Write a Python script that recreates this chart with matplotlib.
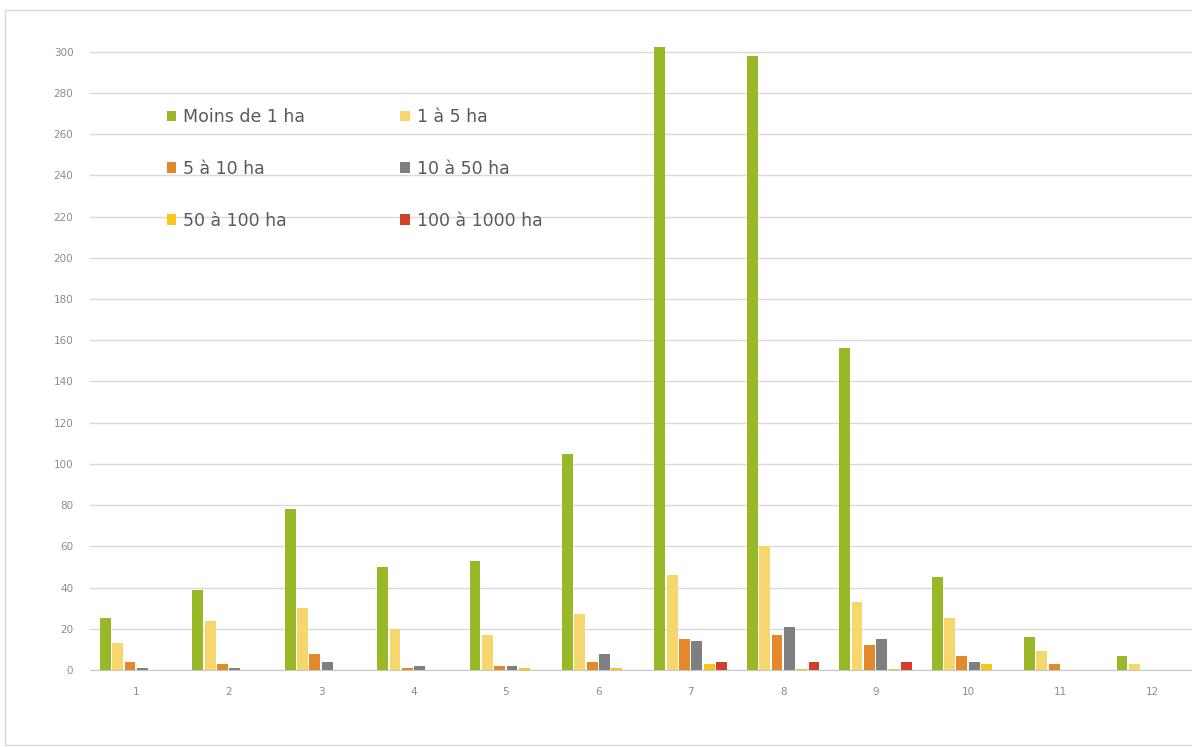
import matplotlib.pyplot as plt
import numpy as np

# surface classes, one bar per class in each group
classes = ["Moins de 1 ha", "1 à 5 ha", "5 à 10 ha", "10 à 50 ha", "50 à 100 ha", "100 à 1000 ha"]
colors = ["#98b828", "#f6d76e", "#e4892a", "#7f7f7f", "#f9c51a", "#cf3f2c"]
groups = ["1", "2", "3", "4", "5", "6", "7", "8", "9", "10", "11", "12"]

moins_1 = [25, 39, 78, 50, 53, 105, 302, 298, 156, 45, 16, 7]
de_1_a_5 = [13, 24, 30, 20, 17, 27, 46, 60, 33, 25, 9, 3]
de_5_a_10 = [4, 3, 8, 1, 2, 4, 15, 17, 12, 7, 3, 0]
de_10_a_50 = [1, 1, 4, 2, 2, 8, 14, 21, 15, 4, 0, 0]
de_50_a_100 = [0, 0, 0, 0, 1, 1, 3, 0.5, 0.5, 3, 0, 0]
de_100_a_1000 = [0, 0, 0, 0, 0, 0, 4, 4, 4, 0, 0, 0]

series = [moins_1, de_1_a_5, de_5_a_10, de_10_a_50, de_50_a_100, de_100_a_1000]

fig = plt.figure(figsize=(11.92, 7.47), dpi=100)
ax = fig.add_axes([90 / 1192, 77 / 747, 1109 / 1192, 639 / 747])

# light frame around the chart area
fig.patches.append(plt.Rectangle((5 / 1192, 2 / 747), 1.2, 735 / 747, transform=fig.transFigure,
                                 fill=False, edgecolor="#d9d9d9", linewidth=1.0))

x = np.arange(len(groups))
pitch = 0.8 / len(series)
bars = []
for i, (vals, col) in enumerate(zip(series, colors)):
    offset = (i - (len(series) - 1) / 2) * pitch
    b = ax.bar(x + offset, vals, width=pitch * 0.88, color=col, zorder=3)
    bars.append(b)

ax.set_xlim(-0.5, len(groups) - 0.5)
ax.set_ylim(0, 310)
ax.set_yticks(np.arange(0, 301, 20))
ax.set_xticks(x)
ax.set_xticklabels(groups)

ax.grid(axis="y", color="#d9d9d9", linewidth=1.0, zorder=0)
for side in ["top", "right", "left"]:
    ax.spines[side].set_visible(False)
ax.spines["bottom"].set_color("#c8c8c8")
ax.tick_params(axis="both", length=0, labelsize=7.5, labelcolor="#8c8c8c")
ax.tick_params(axis="x", pad=12)
ax.tick_params(axis="y", pad=12)

# legend laid out row by row: two entries per row
order = [0, 2, 4, 1, 3, 5]
leg = ax.legend([bars[i] for i in order], [classes[i] for i in order], ncol=2,
                loc="upper left", bbox_to_anchor=(160 / 1192, 646 / 747),
                bbox_transform=fig.transFigure, frameon=False, fontsize=12.5,
                handlelength=0.55, handleheight=0.55, handletextpad=0.4,
                labelspacing=1.95, columnspacing=5.45, borderaxespad=0)
for t in leg.get_texts():
    t.set_color("#595959")

fig.savefig("out.png", dpi=100)
